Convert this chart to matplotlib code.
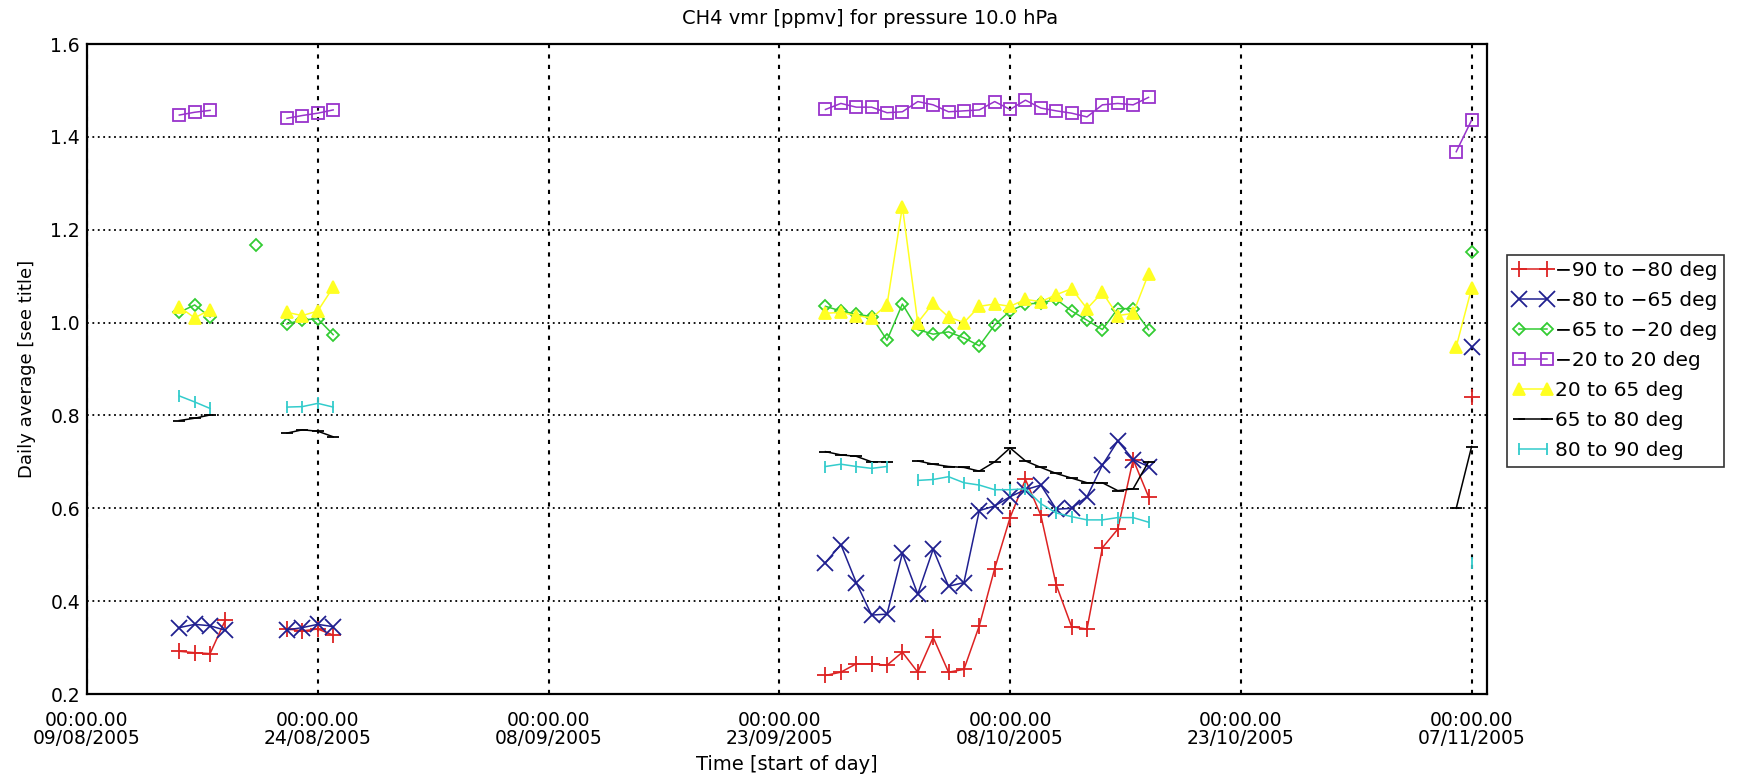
import matplotlib
matplotlib.use("Agg")
import matplotlib.pyplot as plt
import matplotlib.dates as mdates
import numpy as np
import pandas as pd

plt.rcParams['font.family'] = ['DejaVu Sans']

# ---------------- data ----------------
dates = ["2005-08-15", "2005-08-16", "2005-08-17", "2005-08-18", "2005-08-19",
         "2005-08-20", "2005-08-21", "2005-08-22", "2005-08-23", "2005-08-24",
         "2005-08-25", "2005-08-26",
         "2005-09-26", "2005-09-27", "2005-09-28", "2005-09-29", "2005-09-30",
         "2005-10-01", "2005-10-02", "2005-10-03", "2005-10-04", "2005-10-05",
         "2005-10-06", "2005-10-07", "2005-10-08", "2005-10-09", "2005-10-10",
         "2005-10-11", "2005-10-12", "2005-10-13", "2005-10-14", "2005-10-15",
         "2005-10-16", "2005-10-17",
         "2005-10-18", "2005-11-06", "2005-11-07"]

N = None
s_m90_m80 = [0.292, 0.289, 0.287, 0.360, N, N, N, 0.340, 0.336, 0.340, 0.327, N,
             0.240, 0.247, 0.265, 0.265, 0.262, 0.290, 0.247, 0.322, 0.247, 0.253, 0.347,
             0.470, 0.580, 0.662, 0.585, 0.435, 0.345, 0.340, 0.515, 0.555, 0.705, 0.625,
             N, N, 0.840]
s_m80_m65 = [0.343, 0.350, 0.347, 0.337, N, N, N, 0.338, 0.343, 0.350, 0.345, N,
             0.483, 0.522, 0.440, 0.370, 0.372, 0.503, 0.415, 0.512, 0.432, 0.440, 0.595,
             0.605, 0.625, 0.640, 0.650, 0.598, 0.600, 0.625, 0.693, 0.745, 0.705, 0.690,
             N, N, 0.948]
s_m65_m20 = [1.022, 1.038, 1.012, N, N, 1.168, N, 0.997, 1.006, 1.008, 0.974, N,
             1.035, 1.025, 1.018, 1.013, 0.962, 1.040, 0.985, 0.975, 0.980, 0.967, 0.950,
             0.995, 1.025, 1.040, 1.042, 1.050, 1.025, 1.005, 0.985, 1.030, 1.030, 0.985,
             N, N, 1.153]
s_m20_20 = [1.447, 1.453, 1.457, N, N, N, N, 1.440, 1.446, 1.451, 1.458, N,
            1.459, 1.472, 1.464, 1.464, 1.452, 1.454, 1.476, 1.469, 1.454, 1.456, 1.458,
            1.476, 1.459, 1.479, 1.462, 1.456, 1.451, 1.443, 1.469, 1.472, 1.469, 1.485,
            N, 1.368, 1.436]
s_20_65 = [1.034, 1.010, 1.028, N, N, N, N, 1.022, 1.015, 1.025, 1.076, N,
           1.020, 1.022, 1.015, 1.010, 1.038, 1.250, 1.000, 1.042, 1.012, 1.000, 1.035,
           1.040, 1.035, 1.050, 1.045, 1.060, 1.073, 1.030, 1.065, 1.015, 1.020, 1.105,
           N, 0.948, 1.074]
s_65_80 = [0.789, 0.794, 0.801, N, N, N, N, 0.762, 0.769, 0.766, 0.754, N,
           0.722, 0.715, 0.712, 0.700, 0.700, N, 0.702, 0.695, 0.690, 0.688, 0.680,
           0.700, 0.730, 0.702, 0.688, 0.675, 0.665, 0.655, 0.655, 0.638, 0.642, 0.700,
           N, 0.600, 0.733]
s_80_90 = [0.842, 0.829, 0.815, N, N, N, N, 0.818, 0.819, 0.826, 0.818, N,
           0.690, 0.695, 0.690, 0.686, 0.690, N, 0.660, 0.662, 0.668, 0.655, 0.650,
           0.640, 0.640, 0.642, 0.610, 0.590, 0.582, 0.575, 0.575, 0.580, 0.580, 0.570,
           N, N, 0.482]

labels = ["\u221290 to \u221280 deg", "\u221280 to \u221265 deg", "\u221265 to \u221220 deg",
          "\u221220 to 20 deg", "20 to 65 deg", "65 to 80 deg", "80 to 90 deg"]
tick_dates = ["2005-08-09", "2005-08-24", "2005-09-08", "2005-09-23",
              "2005-10-08", "2005-10-23", "2005-11-07"]
x_start, x_end = "2005-08-09", "2005-11-08"
y_ticks = [0.2, 0.4, 0.6, 0.8, 1.0, 1.2, 1.4, 1.6]

# ---------------- styles ----------------
series = [s_m90_m80, s_m80_m65, s_m65_m20, s_m20_20, s_20_65, s_65_80, s_80_90]
colors = ["#dd2222", "#202090", "#33cc33", "#9933cc", "#ffff22", "#000000", "#33cccc"]
markers = ["+", "x", "D", "s", "^", "_", "|"]
msizes = [11, 11, 6.5, 9, 8, 9, 9]
mfc = [None, None, "none", "none", None, None, None]

W, H = 1740, 782
fig = plt.figure(figsize=(W / 100, H / 100), dpi=100)
ax = fig.add_axes([87 / W, 1 - 694 / H, (1487 - 87) / W, (694 - 44) / H])

x = pd.to_datetime(dates)
for vals, c, m, ms, fc, lab in zip(series, colors, markers, msizes, mfc, labels):
    y = np.array([np.nan if v is None else v for v in vals], dtype=float)
    kw = dict(color=c, marker=m, markersize=ms, linewidth=1.1, markeredgewidth=1.3,
              label=lab)
    if fc is not None:
        kw["markerfacecolor"] = fc
    ax.plot(x, y, **kw)

ax.set_xlim(pd.Timestamp(x_start), pd.Timestamp(x_end))
ax.set_ylim(0.2, 1.6)
ax.set_yticks(y_ticks)
ax.set_yticklabels([f"{t:.1f}" for t in y_ticks])
ax.set_xticks(pd.to_datetime(tick_dates))
ax.xaxis.set_major_formatter(mdates.DateFormatter("00:00.00\n%d/%m/%Y"))
ax.tick_params(axis="both", length=0, labelsize=13.5)
ax.tick_params(axis="x", pad=12)
ax.tick_params(axis="y", pad=5)
for lab in ax.get_xticklabels():
    lab.set_linespacing(0.95)

for t in pd.to_datetime(tick_dates):
    ax.axvline(t, color="black", linestyle=(0, (2, 3)), linewidth=1.5, zorder=0.5)
for t in y_ticks[1:-1]:
    ax.axhline(t, color="black", linestyle=(0, (1, 2)), linewidth=1.3, zorder=0.5)

for sp in ax.spines.values():
    sp.set_linewidth(1.6)

ax.set_xlabel("Time [start of day]", fontsize=14, labelpad=5)
ax.set_ylabel("Daily average [see title]", fontsize=13, labelpad=10)
fig.text(0.5, 1 - 18 / H, "CH4 vmr [ppmv] for pressure 10.0 hPa", ha="center",
         va="center", fontsize=14)

leg = fig.legend(loc="upper left", bbox_to_anchor=(1507 / W, 1 - 255 / H),
                 numpoints=2, fontsize=14.5, frameon=True, fancybox=False,
                 edgecolor="black", borderaxespad=0, borderpad=0.3,
                 handlelength=2.0, handletextpad=0.1, labelspacing=0.55)
leg.get_frame().set_linewidth(1.2)

fig.savefig("out.png", dpi=100)
